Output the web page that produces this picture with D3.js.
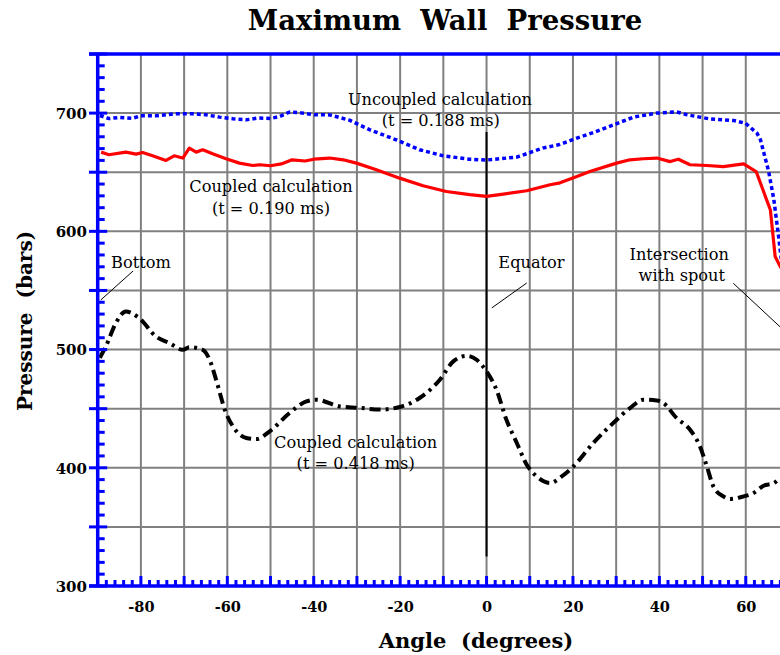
<!DOCTYPE html>
<html>
<head>
<meta charset="utf-8">
<script src="https://cdn.jsdelivr.net/npm/d3@7"></script>
<style>
  html, body { margin: 0; padding: 0; background: #fff; }
  svg { display: block; }
  text { font-family: "DejaVu Serif", serif; }
</style>
</head>
<body>
<svg id="chart" width="780" height="655"></svg>
<script>
// ---------------- data ----------------
const uncoupledAngle = [-89.5,-87.4,-85.1,-82,-80,-76.5,-72,-68,-65,-61.8,-58.7,-55.6,-53,-50,-48,-45.5,-43,-40,-36.3,-31.7,-27.1,-20.9,-15.5,-10.1,-3.9,0,7,13,17,20.9,24.7,29.3,34,39.4,44,46.4,51.8,57.2,59.9,62.6,63.4,65.3,66.5,67.6,68.3,70];
const uncoupledP     = [698,695.4,696.3,695.6,697.7,697.7,699.4,699.4,698.6,696.6,695.2,694.3,695.8,695.5,697,701,700.2,698.6,698.5,694,686,677.4,669,663.9,661,660.3,662.8,670.4,673.5,678.9,683.5,690,696.6,700,701,698.6,695,693.7,691.5,683,677.4,650.6,626.7,595.6,574,540];

const coupled1Angle = [-89.2,-87.4,-83.5,-81.1,-79.6,-77.3,-74.2,-72.3,-70.3,-68.8,-67.2,-65.7,-63.4,-60.3,-57.2,-54.1,-52.5,-50,-47.5,-45,-42,-40,-36.3,-33.2,-30.1,-25.5,-20.1,-14.7,-9.3,-3.9,0,3.9,9.3,14.7,17,20.9,23.9,30.1,33.2,36.3,39.4,42.5,44.4,47.1,51,54.8,59.5,62.4,65.7,66.8,68,70];
const coupled1P     = [667,664.8,667,665.3,666.7,663.9,660,663.9,662,670.4,667,669,665.6,661.4,657.7,655.7,656.3,655.5,657,660.5,659.5,661,662,660.5,657.7,652,645,638.5,633.7,631,629.5,631.5,634.3,639.4,641,646.4,650.6,657.7,660.5,661.4,662,659,661,656.3,655.7,654.8,657,650.6,618,578.7,570,562];

const coupled2Angle = [-89.5,-88.1,-85.8,-83.5,-80.4,-76.5,-73.4,-70.3,-68.8,-65.7,-64.1,-62.6,-60.3,-58.7,-55.6,-53.3,-50.2,-45.6,-41.7,-39.4,-34,-29.4,-24.7,-20.1,-15.5,-10.8,-7.7,-4.6,-2.3,0,2.3,4.6,7,9.3,11.6,14.7,17.4,20.1,24.7,29.3,33.2,36.3,39.4,40.9,44,47.1,49.4,51,52.5,54.8,56.4,59.5,61.8,64.1,66.5,68,70];
const coupled2P     = [493,502.7,522.4,532.2,526.6,511,505.5,499.8,502,499.8,491.4,474.5,446.3,435,425.2,424.3,430.8,446.3,456.1,457.6,451.9,450.7,449.2,451.4,459,474.5,490,494.7,491.4,481.5,466,440.6,421,402.6,392.7,387.1,392.7,401.1,420.9,437.8,450.5,457.6,457,454.8,442,432.2,418,401.1,384.2,375.8,373.6,375.8,378.6,384.8,387,391.3,393];

const xTickLabels = [-80,-60,-40,-20,0,20,40,60];
const yTickLabels = [300,400,500,600,700];
const xGrid = [-80,-70,-60,-50,-40,-30,-20,-10,0,10,20,30,40,50,60,70,80,90];
const yGrid = [350,400,450,500,550,600,650,700,750];

// annotations (data coordinates)
const annotText = ["Uncoupled calculation","(t = 0.188 ms)","Coupled calculation","(t = 0.190 ms)","Bottom","Equator","Intersection","with spout","Coupled calculation","(t = 0.418 ms)"];
const annotX    = [-10.8,-10.6,-49.9,-49.9,-80,10.4,44.6,45.2,-30.3,-30.3];
const annotY    = [707,689.4,633.3,614.7,569.4,569,575.8,558.4,416.7,399];

const leaderX1 = [-89.3, 1.2, 57.1];
const leaderY1 = [541.9, 535.2, 556.1];
const leaderX2 = [-81.8, 9.3, 70.2];
const leaderY2 = [566.5, 556.3, 511.5];

const markerX    = [-90, 0];
const markerYlo  = [327, 325];
const markerYhi  = [715, 684];

// ---------------- layout ----------------
const svg = d3.select("#chart");
const x = d3.scaleLinear().domain([-90, 90]).range([97.7, 875.4]);
const y = d3.scaleLinear().domain([300, 750]).range([586, 54]);
const blue = "#0000ff";

// grid
svg.append("g").selectAll("line").data(xGrid).join("line")
  .attr("x1", d => x(d)).attr("x2", d => x(d))
  .attr("y1", y(300)).attr("y2", y(750))
  .attr("stroke", "#808080").attr("stroke-width", 2);
svg.append("g").selectAll("line").data(yGrid).join("line")
  .attr("x1", x(-90)).attr("x2", x(90))
  .attr("y1", d => y(d)).attr("y2", d => y(d))
  .attr("stroke", "#808080").attr("stroke-width", 2);

// marker lines (Bottom, Equator)
svg.append("g").selectAll("line").data(markerX).join("line")
  .attr("x1", d => x(d)).attr("x2", d => x(d))
  .attr("y1", (d,i) => y(markerYlo[i])).attr("y2", (d,i) => y(markerYhi[i]))
  .attr("stroke", "#000").attr("stroke-width", 2);

// leader lines
svg.append("g").selectAll("line").data(leaderX1).join("line")
  .attr("x1", (d,i) => x(leaderX1[i])).attr("y1", (d,i) => y(leaderY1[i]))
  .attr("x2", (d,i) => x(leaderX2[i])).attr("y2", (d,i) => y(leaderY2[i]))
  .attr("stroke", "#000").attr("stroke-width", 1);

// curves
function series(a, p) { return a.map((d, i) => [d, p[i]]); }
const line = d3.line().x(d => x(d[0])).y(d => y(d[1]));
const smooth = d3.line().x(d => x(d[0])).y(d => y(d[1])).curve(d3.curveMonotoneX);

svg.append("path").datum(series(coupled1Angle, coupled1P))
  .attr("d", line).attr("fill", "none").attr("stroke", "#ff0000")
  .attr("stroke-width", 3.2).attr("stroke-linejoin", "round");
svg.append("path").datum(series(uncoupledAngle, uncoupledP))
  .attr("d", line).attr("fill", "none").attr("stroke", blue)
  .attr("stroke-width", 3.5).attr("stroke-dasharray", "4,3");
svg.append("path").datum(series(coupled2Angle, coupled2P))
  .attr("d", smooth).attr("fill", "none").attr("stroke", "#000")
  .attr("stroke-width", 4).attr("stroke-dasharray", "11,5,3,5");

// axes frame
const axisG = svg.append("g").attr("stroke", blue);
axisG.append("line").attr("x1", 89).attr("x2", x(90)).attr("y1", y(750)).attr("y2", y(750)).attr("stroke-width", 3.5);
axisG.append("line").attr("x1", x(-90)).attr("x2", x(-90)).attr("y1", y(750)).attr("y2", y(300)).attr("stroke-width", 3.5);
axisG.append("line").attr("x1", 89).attr("x2", x(90)).attr("y1", y(300)).attr("y2", y(300)).attr("stroke-width", 3.5);

// left ticks
const yMinor = d3.range(300, 751, 10).filter(v => v % 50 !== 0);
const yMajor = d3.range(300, 751, 50);
axisG.append("g").selectAll("line").data(yMinor).join("line")
  .attr("x1", x(-90)).attr("x2", x(-90) + 7)
  .attr("y1", d => y(d)).attr("y2", d => y(d)).attr("stroke-width", 3);
axisG.append("g").selectAll("line").data(yMajor).join("line")
  .attr("x1", 89).attr("x2", x(-90) + 9.5)
  .attr("y1", d => y(d)).attr("y2", d => y(d)).attr("stroke-width", 3);

// bottom ticks
const xMinor = d3.range(-88, 91, 2).filter(v => v % 10 !== 0);
const xMajor = d3.range(-80, 91, 10);
axisG.append("g").selectAll("line").data(xMinor).join("line")
  .attr("x1", d => x(d)).attr("x2", d => x(d))
  .attr("y1", y(300)).attr("y2", y(300) - 6).attr("stroke-width", 3);
axisG.append("g").selectAll("line").data(xMajor).join("line")
  .attr("x1", d => x(d)).attr("x2", d => x(d))
  .attr("y1", y(300)).attr("y2", y(300) - 10).attr("stroke-width", 3);

// tick labels via d3 axes (lines hidden)
const xAxis = d3.axisBottom(x).tickValues(xTickLabels).tickSize(0).tickPadding(0).tickFormat(d => String(d));
const gx = svg.append("g").attr("transform", `translate(0,${y(300) + 26})`).call(xAxis);
gx.select(".domain").remove();
gx.selectAll("text").attr("font-family", "DejaVu Serif").attr("font-weight", "bold")
  .attr("font-size", 14.5).attr("fill", "#000").attr("dy", 0);

const yAxis = d3.axisLeft(y).tickValues(yTickLabels).tickSize(0).tickPadding(0).tickFormat(d => String(d));
const gy = svg.append("g").attr("transform", `translate(87,0)`).call(yAxis);
gy.select(".domain").remove();
gy.selectAll("text").attr("font-family", "DejaVu Serif").attr("font-weight", "bold")
  .attr("font-size", 15).attr("fill", "#000").attr("dy", "0.36em");

// annotations
svg.append("g").selectAll("text").data(annotText).join("text")
  .attr("x", (d,i) => x(annotX[i])).attr("y", (d,i) => y(annotY[i]))
  .attr("text-anchor", "middle").attr("font-size", 16.2).attr("fill", "#000")
  .text(d => d);

// title & axis titles
svg.append("text").attr("x", 445).attr("y", 30).attr("text-anchor", "middle")
  .attr("font-weight", "bold").attr("font-size", 27.5).style("white-space", "pre")
  .text("Maximum  Wall  Pressure");
svg.append("text").attr("x", 476).attr("y", 648).attr("text-anchor", "middle")
  .attr("font-weight", "bold").attr("font-size", 21).style("white-space", "pre")
  .text("Angle  (degrees)");
svg.append("text").attr("transform", "translate(32,321) rotate(-90)").attr("text-anchor", "middle")
  .attr("font-weight", "bold").attr("font-size", 20).style("white-space", "pre")
  .text("Pressure  (bars)");
</script>
</body>
</html>
